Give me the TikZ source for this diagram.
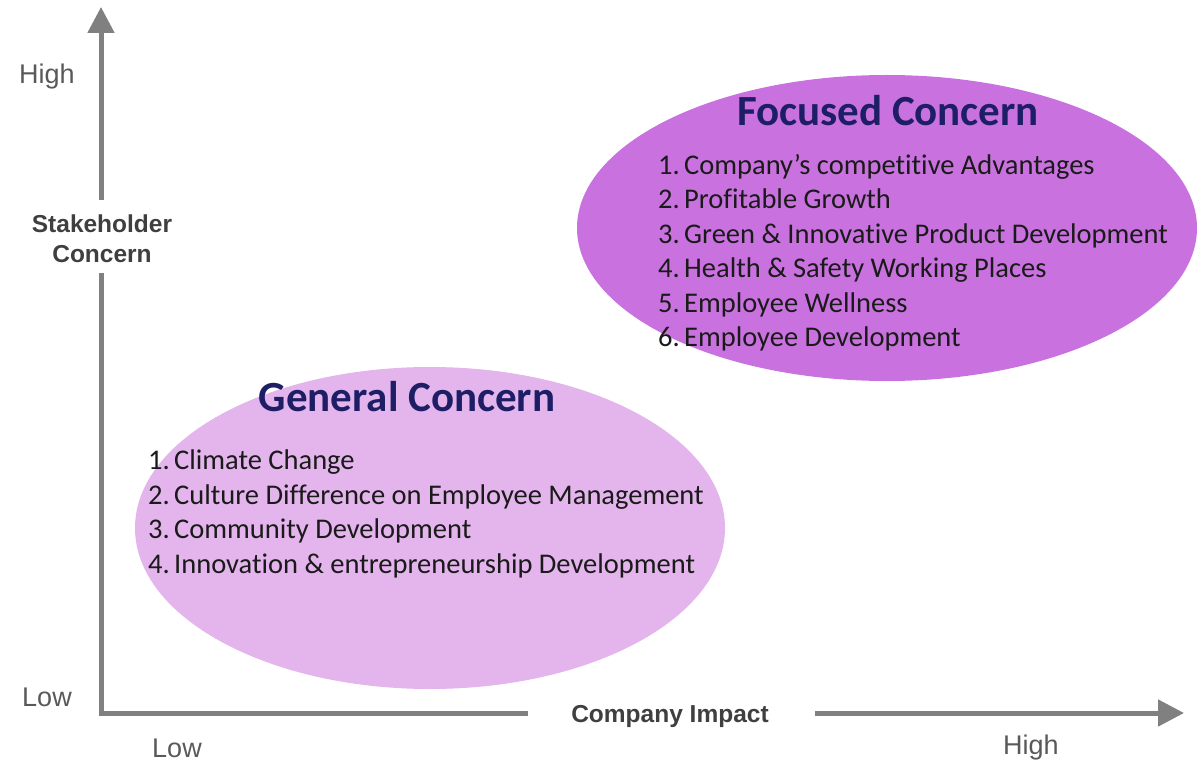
\documentclass[tikz,border=0pt]{standalone}
\usepackage{fontspec}
\setmainfont[Ligatures=NoCommon]{Carlito}
\newfontfamily\arialf{Liberation Sans}
\usetikzlibrary{arrows.meta}
\definecolor{axisgray}{HTML}{808080}
\definecolor{labgray}{HTML}{595959}
\definecolor{darklab}{HTML}{3F3F3F}
\definecolor{focfill}{HTML}{C972DF}
\definecolor{genfill}{HTML}{E4B4EC}
\definecolor{navy}{HTML}{1E1E66}
\definecolor{itemtext}{HTML}{1A1A1A}
\tikzset{
  axis/.style={draw=axisgray, line width=5pt},
  axisarrow/.style={axis, -{Triangle[width=26pt,length=26pt]}},
  ticklab/.style={font=\arialf\fontsize{27}{30}\selectfont, text=labgray, inner sep=0pt},
  axislab/.style={font=\arialf\bfseries\fontsize{24.5}{30}\selectfont, text=darklab, align=center, inner sep=0pt},
  ctitle/.style={font=\bfseries\fontsize{43}{46}\selectfont, text=navy, inner sep=0pt},
  clist/.style={font=\fontsize{28.5}{34.5}\selectfont, text=itemtext, align=left, inner sep=0pt, anchor=north west},
}
\newcommand{\itm}[2]{\makebox[26pt][l]{#1.}#2}
\begin{document}
\begin{tikzpicture}[x=1pt,y=-1pt]
\useasboundingbox (0,0) rectangle (1200,762);
% ellipses
\fill[focfill] (887,228) ellipse [x radius=310, y radius=153];
\fill[genfill] (430,528) ellipse [x radius=295, y radius=161];
% axes
\coordinate (origin) at (101,713);
\coordinate (ytip) at (101,7);
\coordinate (xtip) at (1184,713);
\coordinate (ygapLow) at (101,276);
\coordinate (ygapHigh) at (101,200);
\coordinate (xgapLeft) at (525,713);
\coordinate (xgapRight) at (815,713);
\draw[axis, line cap=rect] (xgapLeft) -- (origin) -- (ygapLow);
\draw[axisarrow] (ygapHigh) -- (ytip);
\draw[axisarrow] (xgapRight) -- (xtip);
% axis labels
\node[axislab] (ylab) at (102,239) {Stakeholder\\Concern};
\node[axislab] (xlab) at (670,716) {Company Impact};
\node[ticklab] (yhigh) at (47,77) {High};
\node[ticklab] (ylow) at (47,697) {Low};
\node[ticklab] (xlow) at (177,748) {Low};
\node[ticklab] (xhigh) at (1031,748) {High};
% titles
\node[ctitle] (ftitle) at (888,111) {Focused Concern};
\node[ctitle] (gtitle) at (407,397) {General Concern};
% lists
\node[clist] (flist) at (658,154) {%
\itm{1}{Company’s competitive Advantages}\\
\itm{2}{Profitable Growth}\\
\itm{3}{Green \& Innovative Product Development}\\
\itm{4}{Health \& Safety Working Places}\\
\itm{5}{Employee Wellness}\\
\itm{6}{Employee Development}};
\node[clist] (glist) at (148,450) {%
\itm{1}{Climate Change}\\
\itm{2}{Culture Difference on Employee Management}\\
\itm{3}{Community Development}\\
\itm{4}{Innovation \& entrepreneurship Development}};
\end{tikzpicture}
\end{document}
